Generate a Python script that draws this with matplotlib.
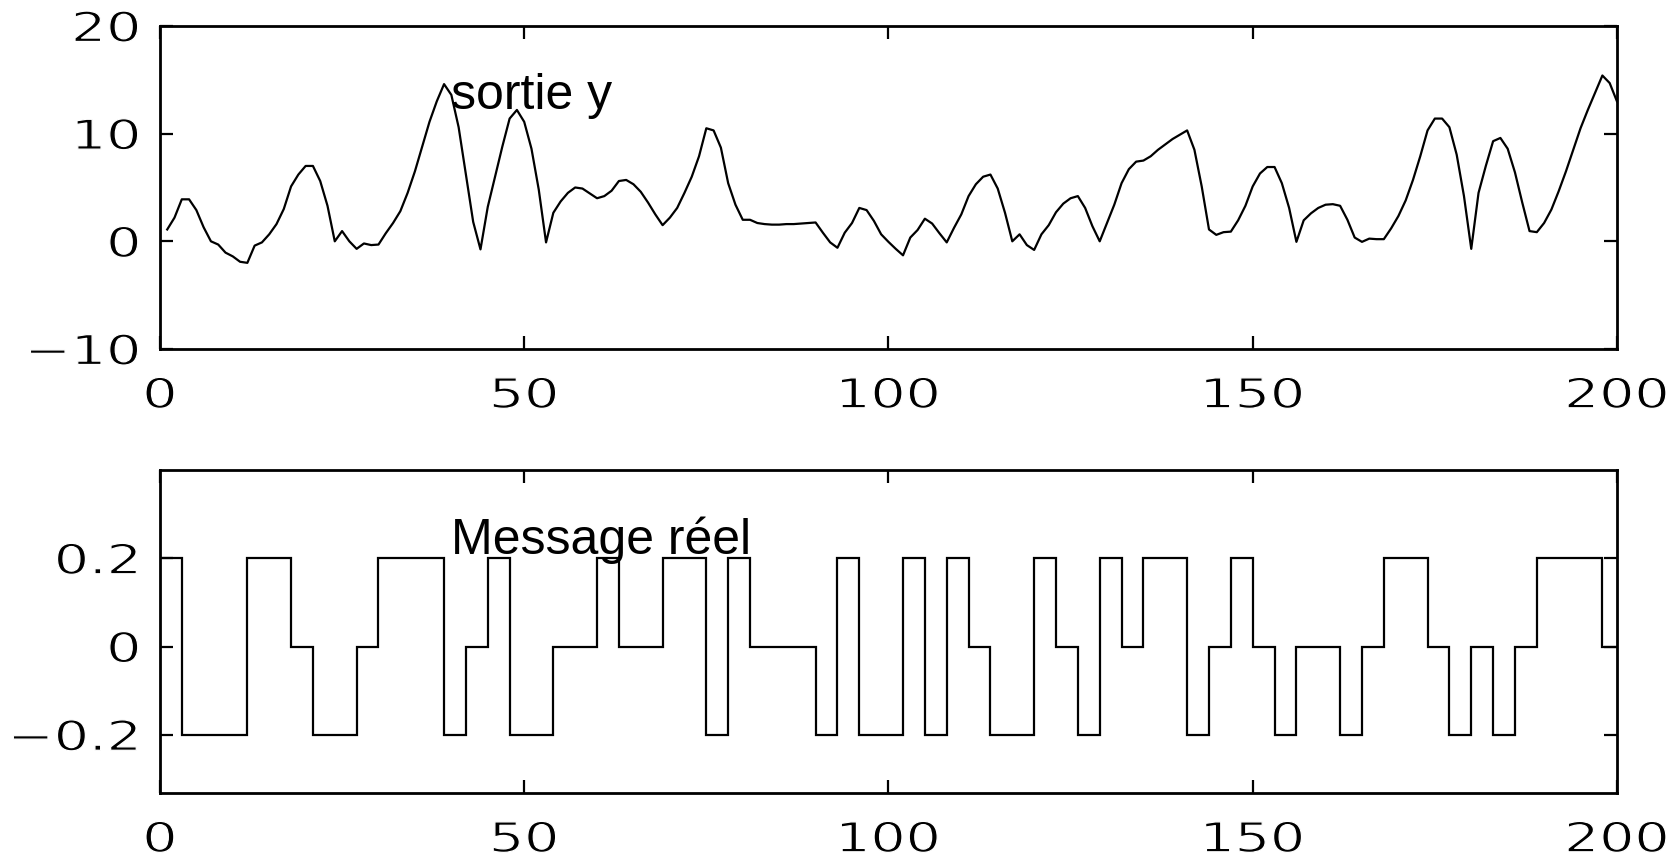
import numpy as np
import matplotlib
matplotlib.use("Agg")
import matplotlib.pyplot as plt
from matplotlib.patheffects import AbstractPathEffect
from matplotlib.transforms import Affine2D
from matplotlib.ticker import FuncFormatter

# ---------------- data ----------------
# output y (one value per sample, samples 1..200)
y_out = [
    1.1, 2.2, 3.9, 3.9, 2.9, 1.3, 0.0, -0.3, -1.05, -1.4,
    -1.9, -2.0, -0.4, -0.1, 0.65, 1.6, 3.0, 5.1, 6.2, 7.0,
    7.0, 5.6, 3.3, 0.0, 0.95, 0.0, -0.7, -0.2, -0.35, -0.3,
    0.75, 1.7, 2.8, 4.5, 6.5, 8.8, 11.1, 13.0, 14.6, 13.6,
    10.6, 6.2, 1.8, -0.75, 3.2, 6.0, 8.8, 11.4, 12.2, 11.1,
    8.6, 4.8, -0.1, 2.65, 3.7, 4.5, 5.0, 4.9, 4.45, 4.0,
    4.2, 4.7, 5.6, 5.7, 5.3, 4.6, 3.6, 2.5, 1.5, 2.2,
    3.1, 4.5, 6.0, 7.9, 10.5, 10.3, 8.7, 5.4, 3.4, 2.0,
    2.0, 1.7, 1.6, 1.55, 1.55, 1.6, 1.6, 1.65, 1.7, 1.75,
    0.8, -0.1, -0.6, 0.8, 1.7, 3.1, 2.9, 1.9, 0.65, -0.05,
    -0.7, -1.3, 0.35, 1.05, 2.1, 1.65, 0.75, -0.1, 1.25, 2.5,
    4.2, 5.3, 6.0, 6.2, 4.9, 2.65, 0.0, 0.65, -0.35, -0.8,
    0.65, 1.5, 2.7, 3.5, 4.0, 4.2, 3.1, 1.4, 0.0, 1.7,
    3.4, 5.4, 6.7, 7.4, 7.5, 7.9, 8.5, 9.0, 9.5, 9.9,
    10.3, 8.5, 5.1, 1.1, 0.6, 0.85, 0.9, 1.95, 3.3, 5.1,
    6.3, 6.9, 6.9, 5.4, 3.1, -0.05, 1.95, 2.6, 3.1, 3.4,
    3.45, 3.3, 2.0, 0.35, -0.05, 0.25, 0.2, 0.2, 1.2, 2.35,
    3.8, 5.7, 7.9, 10.3, 11.4, 11.4, 10.6, 8.05, 4.2, -0.7,
    4.5, 7.0, 9.3, 9.6, 8.6, 6.4, 3.6, 0.95, 0.85, 1.7,
    2.95, 4.65, 6.5, 8.5, 10.5, 12.2, 13.8, 15.4, 14.7, 13.0,
]
samples = np.arange(1, len(y_out) + 1)

# real message: piecewise-constant levels between change points
msg_edges = [0, 3, 12, 18, 21, 27, 30, 39, 42, 45, 48, 54, 60, 63, 69, 75,
             78, 81, 90, 93, 96, 102, 105, 108, 111, 114, 120, 123, 126,
             129, 132, 135, 141, 144, 147, 150, 153, 156, 162, 165, 168,
             174, 177, 180, 183, 186, 189, 198, 200]
msg_levels = [0.2, -0.2, 0.2, 0.0, -0.2, 0.0, 0.2, -0.2, 0.0, 0.2, -0.2,
              0.0, 0.2, 0.0, 0.2, -0.2, 0.2, 0.0, -0.2, 0.2, -0.2, 0.2,
              -0.2, 0.2, 0.0, -0.2, 0.2, 0.0, -0.2, 0.2, 0.0, 0.2, -0.2,
              0.0, 0.2, 0.0, -0.2, 0.0, -0.2, 0.0, 0.2, 0.0, -0.2, 0.0,
              -0.2, 0.0, 0.2, 0.0]

x_ticks = [0, 50, 100, 150, 200]
y_ticks_top = [-10, 0, 10, 20]
y_ticks_bot = [-0.2, 0, 0.2]


# ---------------- helpers ----------------
class HStretch(AbstractPathEffect):
    """Stretch glyphs horizontally around an anchor and thin their strokes."""
    def __init__(self, sx=1.4, anchor="center", erode=0.9):
        super().__init__()
        self.sx = sx
        self.anchor = anchor
        self.erode = erode

    def draw_path(self, renderer, gc, tpath, affine, rgbFace=None):
        ext = tpath.get_extents()
        if self.anchor == "right":
            cx = ext.x1
        elif self.anchor == "left":
            cx = ext.x0
        else:
            cx = 0.5 * (ext.x0 + ext.x1)
        pre = Affine2D().translate(-cx, 0).scale(self.sx, 1.0).translate(cx, 0)
        tr = pre + affine
        renderer.draw_path(gc, tpath, tr, rgbFace)
        if self.erode > 0:
            gc2 = renderer.new_gc()
            gc2.copy_properties(gc)
            gc2.set_foreground("white")
            gc2.set_linewidth(self.erode)
            renderer.draw_path(gc2, tpath, tr, None)
            gc2.restore()


def fmt(v, pos):
    s = "%g" % v
    return s.replace("-", "\u2212")


TICK_FONT = "DejaVu Sans"
TICK_SIZE = 29.5
STRETCH = 1.35
TEXT_FONT = "Liberation Sans"
LW = 1.6

fig = plt.figure(figsize=(16.73, 8.6), dpi=100)
ax1 = fig.add_axes([0.0956, 0.5942, 0.8709, 0.3756])
ax2 = fig.add_axes([0.0956, 0.0779, 0.8709, 0.3756])

ax1.plot(samples, y_out, color="black", lw=LW)
ax1.set_xlim(0, 200)
ax1.set_ylim(-10, 20)
ax1.set_yticks(y_ticks_top)

ax2.stairs(msg_levels, msg_edges, color="black", lw=LW, baseline=None)
ax2.set_xlim(0, 200)
ax2.set_ylim(-0.332, 0.4)
ax2.set_yticks(y_ticks_bot)

ax1.text(40, 12.3, "sortie y", fontsize=36, family=TEXT_FONT, va="baseline")
ax2.text(40, 0.21, "Message réel", fontsize=36, family=TEXT_FONT, va="baseline")

for ax in (ax1, ax2):
    ax.set_xticks(x_ticks)
    ax.xaxis.set_major_formatter(FuncFormatter(fmt))
    ax.yaxis.set_major_formatter(FuncFormatter(fmt))
    for sp in ax.spines.values():
        sp.set_linewidth(2.0)
    ax.tick_params(axis="both", which="major", direction="in", length=9.5,
                   width=1.6, top=True, right=True, labelsize=TICK_SIZE)
    ax.tick_params(axis="x", pad=20)
    ax.tick_params(axis="y", pad=14)
    for lab in ax.get_xticklabels():
        lab.set_family(TICK_FONT)
        lab.set_path_effects([HStretch(STRETCH, "center")])
    for lab in ax.get_yticklabels():
        lab.set_family(TICK_FONT)
        lab.set_path_effects([HStretch(STRETCH, "right")])

fig.savefig("out.png", dpi=100, facecolor="white")
